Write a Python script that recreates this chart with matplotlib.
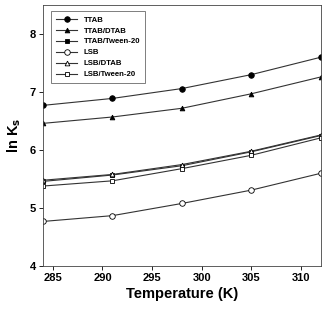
import matplotlib
matplotlib.use("Agg")
import matplotlib.pyplot as plt

plt.rcParams['font.family'] = ['Liberation Sans', 'DejaVu Sans']
plt.rcParams['font.weight'] = 'bold'

temp = [284, 291, 298, 305, 312]
ttab = [6.77, 6.89, 7.06, 7.30, 7.60]
ttab_dtab = [6.46, 6.57, 6.72, 6.97, 7.26]
ttab_tween = [5.46, 5.57, 5.73, 5.97, 6.25]
lsb = [4.77, 4.87, 5.08, 5.31, 5.60]
lsb_dtab = [5.48, 5.58, 5.75, 5.98, 6.26]
lsb_tween = [5.38, 5.47, 5.68, 5.91, 6.21]

series = [
    ('TTAB', ttab, 'o', 'black'),
    ('TTAB/DTAB', ttab_dtab, '^', 'black'),
    ('TTAB/Tween-20', ttab_tween, 's', 'black'),
    ('LSB', lsb, 'o', 'white'),
    ('LSB/DTAB', lsb_dtab, '^', 'white'),
    ('LSB/Tween-20', lsb_tween, 's', 'white'),
]

fig = plt.figure(figsize=(3.25, 3.12), dpi=100)
ax = fig.add_axes([0.132, 0.147, 0.855, 0.837])

for name, vals, m, fc in series:
    ms = 4.0 if m == 'o' else 3.4
    ax.plot(temp, vals, color='#333333', lw=0.8, marker=m, ms=ms,
            mfc=fc, mec='black', mew=0.6, label=name)

ax.set_xlim(284, 312)
ax.set_ylim(4, 8.5)
ax.set_xticks([285, 290, 295, 300, 305, 310])
ax.set_yticks([4, 5, 6, 7, 8])
ax.tick_params(labelsize=8, length=3, width=0.6, pad=2)
for lbl in ax.get_xticklabels() + ax.get_yticklabels():
    lbl.set_fontweight('bold')
for s in ax.spines.values():
    s.set_linewidth(0.6)
    s.set_color('#444444')

ax.set_xlabel('Temperature (K)', fontsize=10.5, fontweight='bold', labelpad=3)
ax.set_ylabel(r'ln K$_\mathbf{s}$', fontsize=10.5, fontweight='bold', labelpad=5)

leg = ax.legend(loc='upper left', fontsize=5.6, frameon=True, fancybox=False,
                edgecolor='#444444', handlelength=2.8, labelspacing=0.45,
                borderpad=0.6, bbox_to_anchor=(0.015, 0.99))
leg.get_frame().set_linewidth(0.6)

fig.savefig('out.png', dpi=100)
